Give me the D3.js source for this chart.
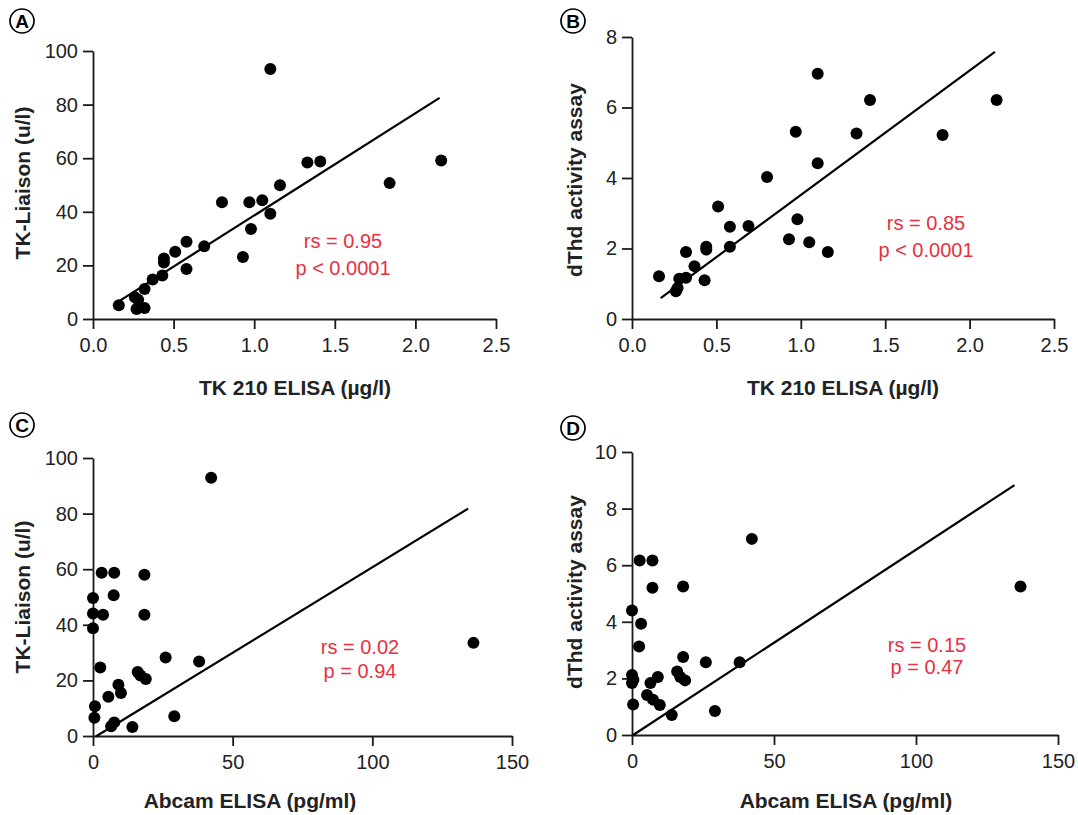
<!DOCTYPE html>
<html>
<head>
<meta charset="utf-8">
<script src="https://cdn.jsdelivr.net/npm/d3@7"></script>
<style>
  body { margin: 0; background: #fff; }
  text { font-family: "Liberation Sans", Arial, Helvetica, sans-serif; }
  .axis path, .axis line { stroke: #1a1a1a; stroke-width: 1.8; }
  .axis text { font-size: 20px; fill: #222; }
</style>
</head>
<body>
<svg id="chart" width="1078" height="815"></svg>
<script>
// ---------------- data ----------------
// TK 210 ELISA (ug/l), shared by panels A and B
const tk210 = [0.16, 0.26, 0.27, 0.28, 0.32, 0.32, 0.37, 0.43, 0.44, 0.44, 0.51, 0.58, 0.58,
               0.69, 0.80, 0.93, 0.97, 0.98, 1.05, 1.10, 1.10, 1.16, 1.33, 1.41, 1.84, 2.16];
// panel A : TK-Liaison (u/l)
const liaisonA = [5.1, 8.1, 3.7, 7.2, 4.1, 11.2, 14.7, 16.2, 22.6, 21.1, 25.1, 28.8, 18.7,
                  27.1, 43.6, 23.1, 43.6, 33.6, 44.3, 39.3, 93.3, 49.9, 58.4, 58.8, 50.7, 59.1];
// panel B : dThd activity assay
const dthdB = [1.21, 0.79, 0.88, 1.14, 1.17, 1.90, 1.50, 1.10, 2.05, 1.97, 3.19, 2.62, 2.05,
               2.64, 4.03, 2.26, 5.31, 2.83, 2.18, 4.42, 6.96, 1.90, 5.26, 6.21, 5.22, 6.21];
// panel C : Abcam ELISA (pg/ml) vs TK-Liaison
const abcamC = [42.3, 3.1, 7.6, 18.4, 7.4, 0.0, 0.0, 3.6, 18.4, 0.0, 2.6, 26.0, 38.0,
                16.0, 17.0, 18.9, 9.1, 10.0, 5.5, 0.7, 0.5, 7.6, 6.5, 14.1, 29.1, 136.2];
const liaisonC = [92.9, 58.7, 58.7, 58.0, 50.6, 49.6, 44.1, 43.6, 43.6, 38.8, 24.6, 28.2, 26.8,
                  23.0, 21.8, 20.5, 18.4, 15.5, 14.1, 10.7, 6.6, 4.9, 3.5, 3.2, 7.1, 33.5];
// panel D : Abcam ELISA (pg/ml) vs dThd activity
const abcamD = [42.2, 2.7, 7.2, 7.2, 18.0, 136.8, 0.0, 3.2, 2.5, 18.0, 26.0, 37.9, 0.0,
                0.0, 0.5, 9.1, 15.9, 17.0, 18.7, 6.5, 5.3, 7.4, 9.8, 0.4, 14.0, 29.2];
const dthdD = [6.93, 6.17, 6.17, 5.20, 5.25, 5.25, 4.40, 3.93, 3.13, 2.76, 2.57, 2.57, 2.12,
               1.84, 1.95, 2.05, 2.24, 2.05, 1.93, 1.84, 1.41, 1.25, 1.06, 1.08, 0.71, 0.85];

// regression lines, end points [x, y]
const fitA = [[0.16, 6.6], [2.15, 82.5]];
const fitB = [[0.17, 0.59], [2.15, 7.58]];
const fitC = [[1.0, -0.2], [134.3, 81.8]];
const fitD = [[0.4, 0.0], [134.7, 8.83]];

const statsA = ["rs = 0.95", "p < 0.0001"];
const statsB = ["rs = 0.85", "p < 0.0001"];
const statsC = ["rs = 0.02", "p = 0.94"];
const statsD = ["rs = 0.15", "p = 0.47"];

const ticksTK = [0, 0.5, 1.0, 1.5, 2.0, 2.5];
const ticksAbcam = [0, 50, 100, 150];
const ticksLiaison = [0, 20, 40, 60, 80, 100];
const ticksDthdB = [0, 2, 4, 6, 8];
const ticksDthdD = [0, 2, 4, 6, 8, 10];

// ---------------- layout ----------------
const panels = [
  { tag: "A", xs: tk210, ys: liaisonA, fit: fitA, stats: statsA,
    xDom: [0, 2.5], yDom: [0, 100], xTicks: ticksTK, yTicks: ticksLiaison, xFmt: ".1f",
    left: 93, right: 496, top: 51, bottom: 319,
    xTitle: "TK 210 ELISA (\u00b5g/l)", yTitle: "TK-Liaison (u/l)",
    statX: 343, statY: 248, statGap: 27, tagX: 22, tagY: 21, xTitleX: 295, xTitleY: 395, yTitleX: 30, yTitleY: 183 },
  { tag: "B", xs: tk210, ys: dthdB, fit: fitB, stats: statsB,
    xDom: [0, 2.5], yDom: [0, 8], xTicks: ticksTK, yTicks: ticksDthdB, xFmt: ".1f",
    left: 632, right: 1054, top: 37, bottom: 319,
    xTitle: "TK 210 ELISA (\u00b5g/l)", yTitle: "dThd activity assay",
    statX: 926, statY: 230, statGap: 27, tagX: 573, tagY: 21, xTitleX: 843, xTitleY: 395, yTitleX: 582, yTitleY: 180 },
  { tag: "C", xs: abcamC, ys: liaisonC, fit: fitC, stats: statsC,
    xDom: [0, 150], yDom: [0, 100], xTicks: ticksAbcam, yTicks: ticksLiaison, xFmt: "d",
    left: 93, right: 512, top: 458, bottom: 736,
    xTitle: "Abcam ELISA (pg/ml)", yTitle: "TK-Liaison (u/l)",
    statX: 360, statY: 654, statGap: 24, tagX: 22, tagY: 425, xTitleX: 250, xTitleY: 808, yTitleX: 30, yTitleY: 597 },
  { tag: "D", xs: abcamD, ys: dthdD, fit: fitD, stats: statsD,
    xDom: [0, 150], yDom: [0, 10], xTicks: ticksAbcam, yTicks: ticksDthdD, xFmt: "d",
    left: 632, right: 1058, top: 452, bottom: 735,
    xTitle: "Abcam ELISA (pg/ml)", yTitle: "dThd activity assay",
    statX: 927, statY: 652, statGap: 22, tagX: 573, tagY: 428, xTitleX: 846, xTitleY: 808, yTitleX: 582, yTitleY: 592 }
];

const svg = d3.select("#chart");

panels.forEach(function(p) {
  let x = d3.scaleLinear().domain(p.xDom).range([p.left, p.right]);
  let y = d3.scaleLinear().domain(p.yDom).range([p.bottom, p.top]);
  let g = svg.append("g");

  g.append("g")
    .attr("class", "axis")
    .attr("transform", "translate(0," + p.bottom + ")")
    .call(d3.axisBottom(x).tickValues(p.xTicks).tickFormat(d3.format(p.xFmt))
          .tickSize(10).tickSizeOuter(0).tickPadding(9));

  g.append("g")
    .attr("class", "axis")
    .attr("transform", "translate(" + p.left + ",0)")
    .call(d3.axisLeft(y).tickValues(p.yTicks).tickFormat(d3.format("d"))
          .tickSize(10).tickSizeOuter(0).tickPadding(5));

  // fit line
  g.append("line")
    .attr("x1", x(p.fit[0][0])).attr("y1", y(p.fit[0][1]))
    .attr("x2", x(p.fit[1][0])).attr("y2", y(p.fit[1][1]))
    .attr("stroke", "#000").attr("stroke-width", 2.2);

  // dots
  g.selectAll(".dot")
    .data(p.xs.map((v, i) => [v, p.ys[i]]))
    .enter().append("circle")
    .attr("class", "dot")
    .attr("cx", d => x(d[0]))
    .attr("cy", d => y(d[1]))
    .attr("r", 6)
    .attr("fill", "#000");

  // stats text
  g.selectAll(".stat")
    .data(p.stats)
    .enter().append("text")
    .attr("x", p.statX)
    .attr("y", (d, i) => p.statY + i * p.statGap)
    .attr("text-anchor", "middle")
    .style("font-size", "20px")
    .style("fill", "#e8303f")
    .text(d => d);

  // axis titles
  g.append("text")
    .attr("x", p.xTitleX).attr("y", p.xTitleY)
    .attr("text-anchor", "middle")
    .style("font-size", "21px").style("font-weight", "bold").style("fill", "#222")
    .text(p.xTitle);

  g.append("text")
    .attr("transform", "translate(" + p.yTitleX + "," + p.yTitleY + ") rotate(-90)")
    .attr("text-anchor", "middle")
    .style("font-size", "21px").style("font-weight", "bold").style("fill", "#222")
    .text(p.yTitle);

  // circled panel letter
  g.append("circle")
    .attr("cx", p.tagX).attr("cy", p.tagY).attr("r", 12)
    .attr("fill", "none").attr("stroke", "#000").attr("stroke-width", 1.7);
  g.append("text")
    .attr("x", p.tagX).attr("y", p.tagY + 7)
    .attr("text-anchor", "middle")
    .style("font-size", "19px").style("font-weight", "bold")
    .text(p.tag);
});
</script>
</body>
</html>
